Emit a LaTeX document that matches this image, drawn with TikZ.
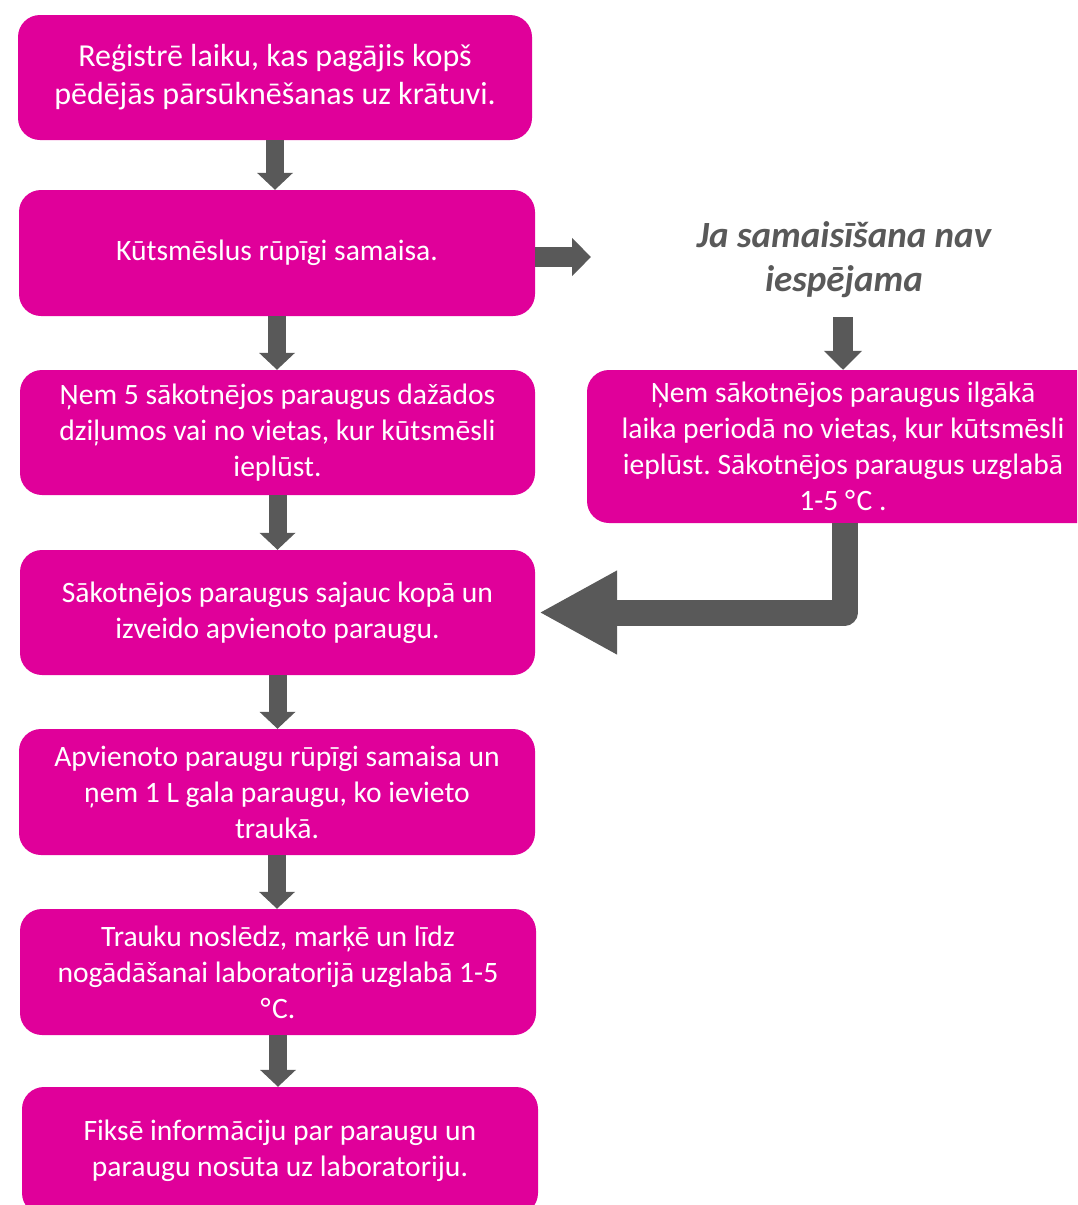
\documentclass[tikz,border=0pt]{standalone}
\usepackage{fontspec}
\setmainfont{Carlito}
\usetikzlibrary{arrows.meta}
\definecolor{mag}{RGB}{224,0,154}
\definecolor{gr}{RGB}{89,89,89}
\frenchspacing
\newcommand{\degC}{°\kern1.5pt C}
\begin{document}
\begin{tikzpicture}[x=1pt,y=-1pt,
  stepbox/.style={fill=mag, rounded corners=22pt, text=white, align=center,
    minimum width=516pt, minimum height=126pt, inner sep=0pt,
    font=\fontsize{29.6}{36}\selectfont},
  smallarr/.style={draw=gr, line width=18pt, -{Triangle[width=35pt,length=17pt]}},
  sidearr/.style={draw=gr, line width=20pt, -{Triangle[width=37pt,length=19pt]}},
  bigarr/.style={draw=gr, line width=26pt, line join=round, -{Triangle[width=78pt,length=78pt]}},
  headtxt/.style={text=gr, align=center, font=\fontsize{37}{44}\selectfont\bfseries\itshape}]
\useasboundingbox (0,0) rectangle (1077,1205);
\clip (0,0) rectangle (1077,1205);
\fill[white] (0,0) rectangle (1077,1205);

\node[stepbox, minimum width=514pt, minimum height=125pt, font=\fontsize{32}{38}\selectfont] (b1) at (275,77.5) {Reģistrē laiku, kas pagājis kopš\\pēdējās pārsūknēšanas uz krātuvi.};
\node[stepbox] (b2) at (277,253) {Kūtsmēslus rūpīgi samaisa.};
\node[stepbox, minimum width=515pt, minimum height=125pt] (b3) at (277.5,432.5) {Ņem 5 sākotnējos paraugus dažādos\\dziļumos vai no vietas, kur kūtsmēsli\\ieplūst.};
\node[stepbox, minimum width=515pt, minimum height=125pt] (b4) at (277.5,612.5) {Sākotnējos paraugus sajauc kopā un\\izveido apvienoto paraugu.};
\node[stepbox] (b5) at (277,792) {Apvienoto paraugu rūpīgi samaisa un\\ņem 1 L gala paraugu, ko ievieto\\traukā.};
\node[stepbox] (b6) at (278,972) {Trauku noslēdz, marķē un līdz\\nogādāšanai laboratorijā uzglabā 1-5\\\degC.};
\node[stepbox, minimum height=128pt] (b7) at (280,1151) {Fiksē informāciju par paraugu un\\paraugu nosūta uz laboratoriju.};

\node[stepbox, minimum width=512pt, minimum height=153pt] (r) at (843,446.5) {Ņem sākotnējos paraugus ilgākā\\laika periodā no vietas, kur kūtsmēsli\\ieplūst. Sākotnējos paraugus uzglabā\\1-5 \degC\ .};

\node[headtxt] (hd) at (844,260) {Ja samaisīšana nav\\iespējama};

\coordinate (rt) at (591,257);
\coordinate (hdb) at (843,317);
\coordinate (b4in) at (539,612.5);

\draw[smallarr] (b1.south) -- (b1.south |- b2.north);
\draw[smallarr] (b2.south) -- (b2.south |- b3.north);
\draw[smallarr] (b3.south) -- (b3.south |- b4.north);
\draw[smallarr] (b4.south) -- (b4.south |- b5.north);
\draw[smallarr] (b5.south) -- (b5.south |- b6.north);
\draw[smallarr] (b6.south) -- (b6.south |- b7.north);

\draw[sidearr] (b2.east |- rt) -- (rt);
\draw[sidearr] (hdb) -- (hdb |- r.north);
\draw[bigarr] ([xshift=1.5pt]r.south) |- (b4in);
\end{tikzpicture}
\end{document}
